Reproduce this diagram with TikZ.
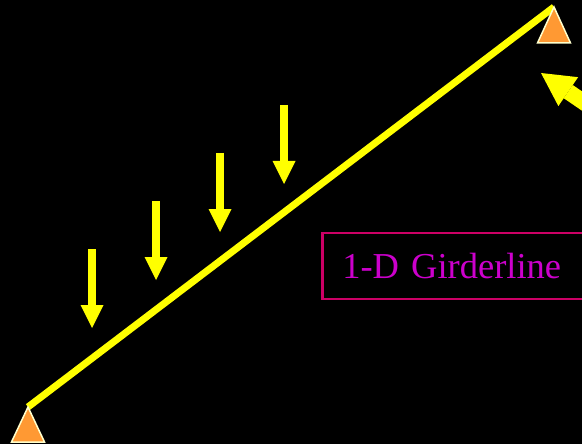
\documentclass[tikz,border=0pt]{standalone}
\usepackage{fontspec}
\setmainfont{Liberation Serif}
\usetikzlibrary{arrows.meta}
\definecolor{girder}{HTML}{FFFF00}
\definecolor{supfill}{HTML}{FF9933}
\definecolor{supline}{HTML}{FFFFCC}
\definecolor{boxline}{HTML}{CC0066}
\definecolor{labeltext}{HTML}{CC00CC}

\begin{document}
\begin{tikzpicture}[x=1pt, y=-1pt,
  load/.style={girder, line width=8pt, -{Triangle[width=23pt,length=23pt,line width=0pt]}},
  support/.style={fill=supfill, draw=supline, line width=1.5pt, line join=miter}]
  \fill[black] (0,0) rectangle (582,444);
  \useasboundingbox (0,0) rectangle (582,444);
  \clip (0,0) rectangle (582,444);

  \coordinate (SA) at (28,407);
  \coordinate (SB) at (554,7);
  \coordinate (L1s) at (92,249);
  \coordinate (L1e) at (92,328);
  \coordinate (L2s) at (156,201);
  \coordinate (L2e) at (156,280);
  \coordinate (L3s) at (220,153);
  \coordinate (L3e) at (220,232);
  \coordinate (L4s) at (284,105);
  \coordinate (L4e) at (284,184);
  \coordinate (Rs) at (620,127);
  \coordinate (Re) at (541,73);

  \draw[girder, line width=7pt] (SA)--(SB);

  % supports
  \filldraw[support] (SA)--++(-16.5,35)--++(33,0)--cycle;
  \filldraw[support] (SB)--++(-16.5,36)--++(33,0)--cycle;

  \draw[load] (L1s)--(L1e);
  \draw[load] (L2s)--(L2e);
  \draw[load] (L3s)--(L3e);
  \draw[load] (L4s)--(L4e);
  \draw[girder, line width=16pt, -{Triangle[width=35pt,length=33pt,line width=0pt]}] (Rs)--(Re);

  \node[draw=boxline, line width=2.5pt, text=labeltext, font=\fontsize{36.5}{40}\selectfont,
        anchor=west, text width=240pt, align=left, inner xsep=20pt,
        minimum height=66pt] (lbl) at (321,266) {1-D Girderline};
\end{tikzpicture}
\end{document}
